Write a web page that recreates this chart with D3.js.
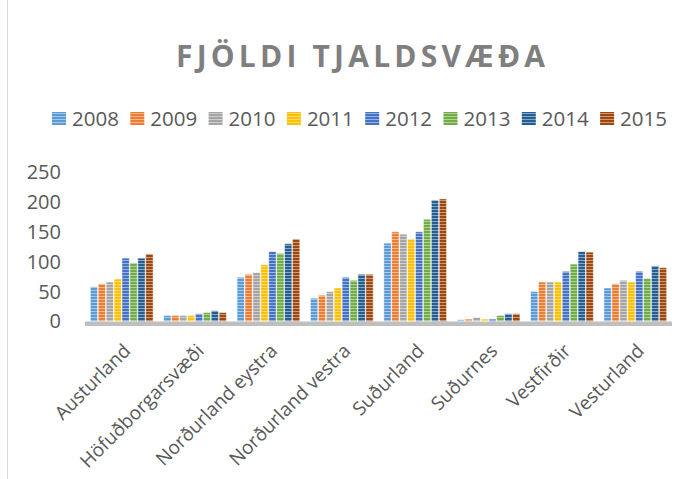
<!DOCTYPE html>
<html>
<head>
<meta charset="utf-8">
<script src="https://cdn.jsdelivr.net/npm/d3@7"></script>
<style>
  body { margin: 0; background: #fff; }
  text { font-family: "Open Sans", sans-serif; fill: #595959; }
</style>
</head>
<body>
<div id="chart"></div>
<script>
var regions = ["Austurland", "Höfuðborgarsvæði", "Norðurland eystra", "Norðurland vestra",
               "Suðurland", "Suðurnes", "Vestfirðir", "Vesturland"];
var years = ["2008", "2009", "2010", "2011", "2012", "2013", "2014", "2015"];
var colors = ["#5B9BD5", "#ED7D31", "#A5A5A5", "#FFC000", "#4472C4", "#70AD47", "#255E91", "#9E480E"];
var yTicks = [0, 50, 100, 150, 200, 250];

// one row per region, one value per year
var v2008 = [58, 10, 74, 39, 131, 3, 50, 56];
var v2009 = [63, 10, 79, 44, 150, 4, 66, 63];
var v2010 = [66, 10, 82, 50, 146, 7, 66, 69];
var v2011 = [71, 10, 95, 56, 138, 4, 66, 66];
var v2012 = [106, 13, 117, 74, 150, 4, 84, 84];
var v2013 = [98, 15, 114, 69, 171, 10, 96, 72];
var v2014 = [106, 18, 130, 79, 203, 13, 117, 93];
var v2015 = [113, 15, 138, 79, 205, 13, 116, 90];
var series = [v2008, v2009, v2010, v2011, v2012, v2013, v2014, v2015];

var W = 697, H = 479;
var svg = d3.select("#chart").append("svg")
    .attr("width", W)
    .attr("height", H);

// striped fills
var defs = svg.append("defs");
colors.forEach(function(c, i){
    var p = defs.append("pattern")
        .attr("id", "pat" + i)
        .attr("patternUnits", "userSpaceOnUse")
        .attr("width", 8).attr("height", 3);
    p.append("rect").attr("width", 8).attr("height", 3).attr("fill", c);
    p.append("rect").attr("y", 2).attr("width", 8).attr("height", 1)
        .attr("fill", d3.interpolateRgb(c, "#fff")(0.45));
});

// left border of the chart area
svg.append("line")
    .attr("x1", 7.5).attr("x2", 7.5)
    .attr("y1", 0).attr("y2", H)
    .attr("stroke", "#D9D9D9");

// title
svg.append("text")
    .attr("x", 176).attr("y", 67)
    .attr("textLength", 369)
    .attr("lengthAdjust", "spacing")
    .style("font-size", "30px")
    .style("font-weight", "bold")
    .style("fill", "#7F7F7F")
    .text("FJÖLDI  TJALDSVÆÐA");

// legend
var legend = svg.append("g").attr("transform", "translate(52, 0)");
var li = legend.selectAll(".li").data(years).enter().append("g")
    .attr("class", "li")
    .attr("transform", function(d, i){ return "translate(" + (i * 78.3) + ", 0)"; });
li.append("rect")
    .attr("y", 112).attr("width", 14).attr("height", 13)
    .attr("fill", function(d, i){ return "url(#pat" + i + ")"; });
li.append("text")
    .attr("x", 20).attr("y", 126)
    .style("font-size", "20.5px")
    .text(function(d){ return d; });

// scales
var x0 = d3.scaleBand().domain(regions).range([85, 672]).paddingInner(0.128).paddingOuter(0.064);
var x1 = d3.scaleBand().domain(years).range([0, x0.bandwidth()]).padding(0.08);
var y = d3.scaleLinear().domain([0, 250]).range([321.5, 172]);

// y axis labels
svg.append("g")
    .attr("class", "axis y")
    .attr("transform", "translate(61, 0)")
    .call(d3.axisLeft(y).tickValues(yTicks).tickSize(0).tickPadding(0))
    .call(function(g){ g.select(".domain").remove(); })
    .selectAll("text")
    .style("font-size", "20px")
    .style("font-family", "'Open Sans', sans-serif")
    .attr("fill", "#595959");

// floor
svg.append("rect")
    .attr("x", 85).attr("y", 321.5)
    .attr("width", 587).attr("height", 4.5)
    .attr("fill", "#BFBFBF");

// bars
var groups = svg.selectAll(".region").data(regions).enter().append("g")
    .attr("class", "region")
    .attr("transform", function(d){ return "translate(" + x0(d) + ", 0)"; });

groups.selectAll("rect")
    .data(function(d, ri){ return years.map(function(yr, yi){ return {year: yr, idx: yi, value: series[yi][ri]}; }); })
    .enter().append("rect")
    .attr("x", function(d){ return x1(d.year); })
    .attr("y", function(d){ return y(d.value); })
    .attr("width", x1.bandwidth())
    .attr("height", function(d){ return y(0) - y(d.value); })
    .attr("fill", function(d){ return "url(#pat" + d.idx + ")"; })
    .attr("stroke", "rgba(255,255,255,0.55)")
    .attr("stroke-width", 0.8);

// x axis labels
svg.append("g")
    .attr("class", "axis x")
    .attr("transform", "translate(0, 326)")
    .call(d3.axisBottom(x0).tickSize(0).tickPadding(0))
    .call(function(g){ g.select(".domain").remove(); })
    .selectAll("text")
    .style("font-size", "19px")
    .style("font-family", "'Open Sans', sans-serif")
    .attr("fill", "#595959")
    .attr("text-anchor", "end")
    .attr("dy", null)
    .attr("y", 0)
    .attr("transform", "translate(10, 26) rotate(-45)");
</script>
</body>
</html>
